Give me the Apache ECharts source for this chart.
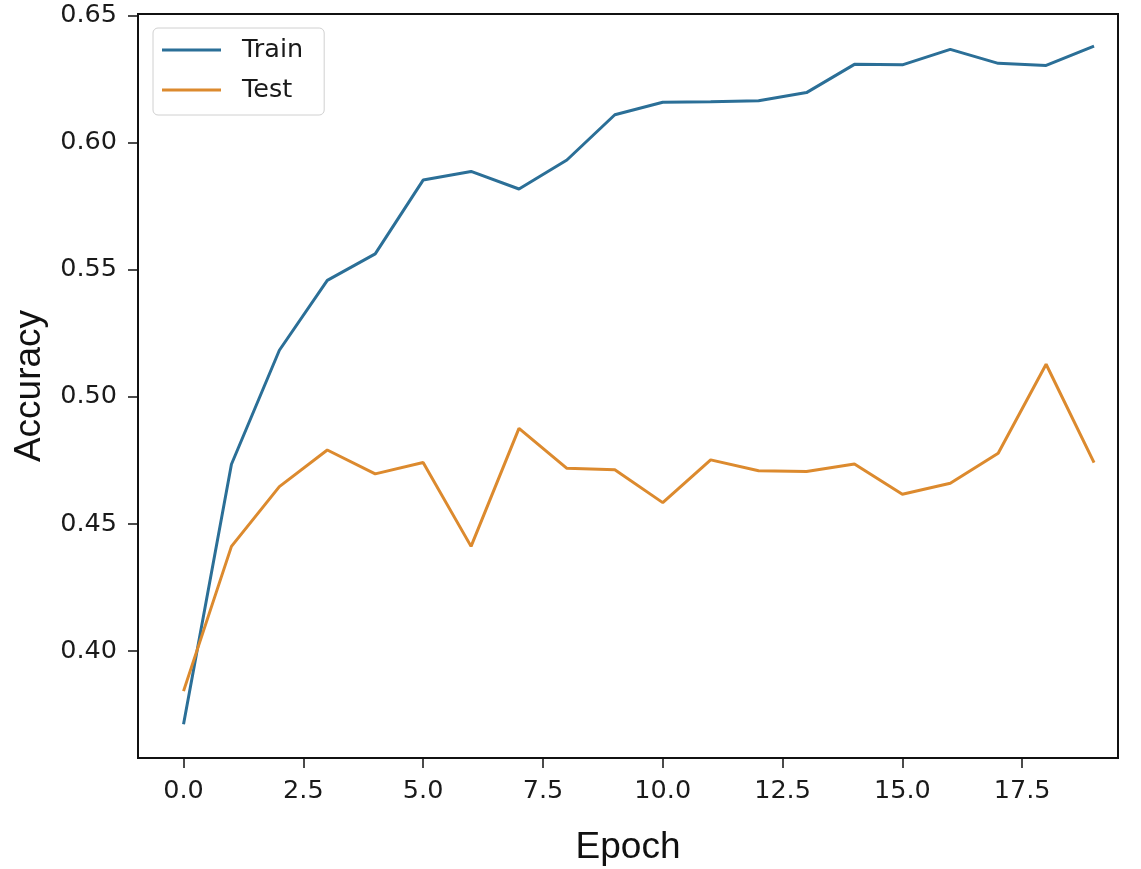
<!DOCTYPE html>
<html>
<head>
<meta charset="utf-8">
<script src="https://cdn.jsdelivr.net/npm/echarts@6/dist/echarts.min.js"></script>
<style>
html,body{margin:0;padding:0;background:#fff;}
#c{width:1141px;height:869px;}
</style>
</head>
<body>
<div id="c"></div>
<script>
const epochs = [0,1,2,3,4,5,6,7,8,9,10,11,12,13,14,15,16,17,18,19];
const trainAcc = [0.3713,0.4735,0.5183,0.5458,0.5562,0.5852,0.5886,0.5817,0.5931,0.6109,0.6158,0.6160,0.6164,0.6196,0.6307,0.6305,0.6366,0.6311,0.6303,0.6379];
const testAcc = [0.3843,0.4412,0.4647,0.4791,0.4697,0.4742,0.4412,0.4876,0.4719,0.4713,0.4584,0.4752,0.4709,0.4706,0.4736,0.4617,0.4660,0.4778,0.5128,0.4741];
const xTicks = [0,2.5,5,7.5,10,12.5,15,17.5];
const yTicks = [0.40,0.45,0.50,0.55,0.60,0.65];
const seriesNames = ['Train','Test'];

const chart = echarts.init(document.getElementById('c'), null, {renderer:'canvas'});
const tickFont = {fontFamily:'DejaVu Sans', fontSize:25.5, color:'#1a1a1a'};
chart.setOption({
  backgroundColor:'#fff',
  animation:false,
  grid:{left:138, right:23, top:14, bottom:111, outerBoundsMode:'none', containLabel:false, show:true, borderColor:'#111', borderWidth:2, backgroundColor:'transparent'},
  legend:{
    orient:'vertical', left:153, top:28,
    padding:[8,21,11,9],
    icon:'rect',
    itemWidth:59, itemHeight:3, itemGap:12,
    backgroundColor:'#fff', borderColor:'#d0d0d0', borderWidth:1, borderRadius:5,
    textStyle:{fontFamily:'DejaVu Sans', fontSize:25.5, color:'#1a1a1a', lineHeight:28, padding:[0,0,0,16]},
    data:seriesNames
  },
  xAxis:{
    type:'value', min:-0.95, max:19.5,
    name:'Epoch', nameLocation:'middle', nameGap:71,
    nameTextStyle:{fontFamily:'Liberation Sans', fontSize:37, lineHeight:37, color:'#111'},
    axisLine:{show:true, onZero:false, lineStyle:{color:'#111', width:2}},
    axisTick:{show:true, length:10, lineStyle:{color:'#111', width:1.5}, customValues:xTicks},
    axisLabel:{...tickFont, margin:20, customValues:xTicks, formatter:v=>Number(v).toFixed(1)},
    splitLine:{show:false}
  },
  yAxis:{
    type:'value', min:0.358, max:0.6505,
    name:'Accuracy', nameLocation:'middle', nameGap:90, nameRotate:90,
    nameTextStyle:{fontFamily:'Liberation Sans', fontSize:37, color:'#111'},
    axisLine:{show:true, onZero:false, lineStyle:{color:'#111', width:2}},
    axisTick:{show:true, length:10, lineStyle:{color:'#111', width:1.5}, customValues:yTicks},
    axisLabel:{...tickFont, margin:21, customValues:yTicks, formatter:v=>Number(v).toFixed(2)},
    splitLine:{show:false}
  },
  series:[
    {name:seriesNames[0], type:'line', data:epochs.map((e,i)=>[e,trainAcc[i]]), symbol:'none', lineStyle:{color:'#2b6f97', width:3}, itemStyle:{color:'#2b6f97'}},
    {name:seriesNames[1], type:'line', data:epochs.map((e,i)=>[e,testAcc[i]]), symbol:'none', lineStyle:{color:'#dc8a2e', width:3}, itemStyle:{color:'#dc8a2e'}}
  ]
});
</script>
</body>
</html>
